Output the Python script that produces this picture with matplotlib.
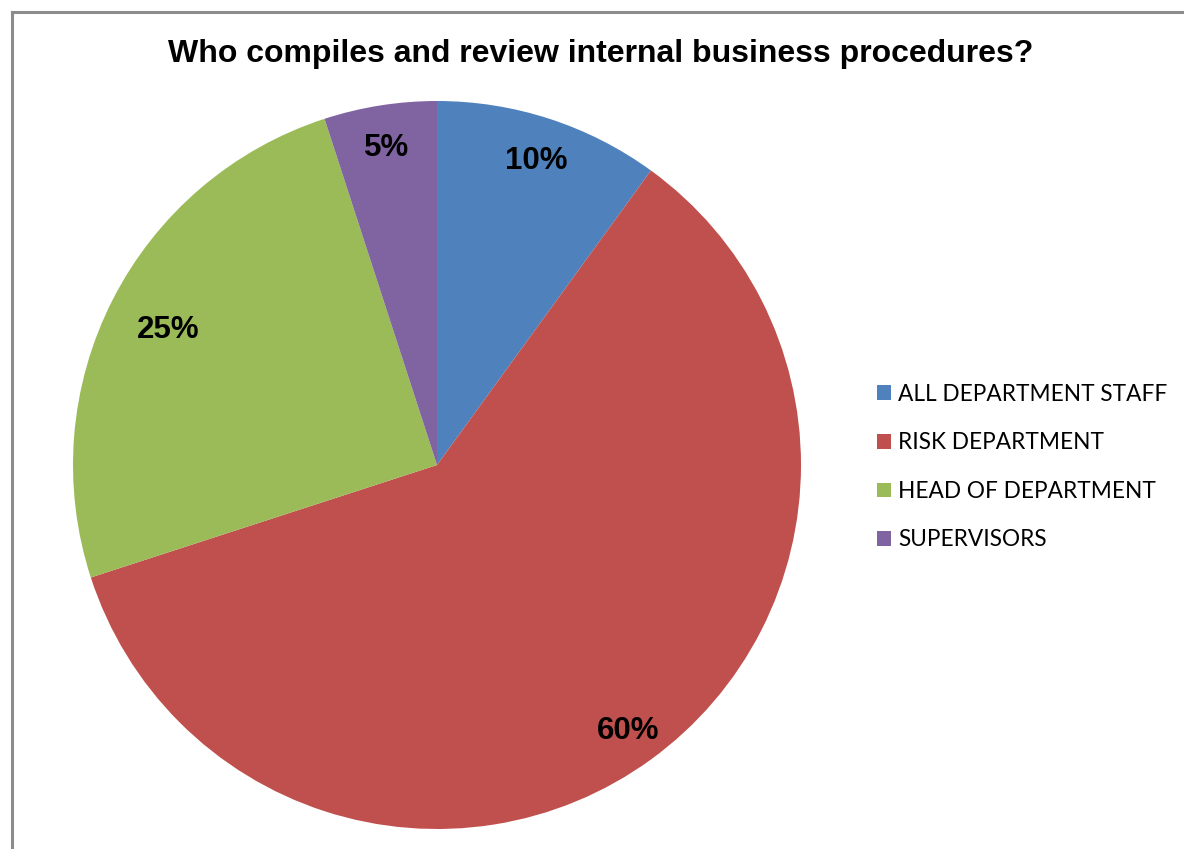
import matplotlib.pyplot as plt
import numpy as np
from matplotlib.patches import Patch
from matplotlib.lines import Line2D

# Survey answers
categories = ['ALL DEPARTMENT STAFF', 'RISK DEPARTMENT', 'HEAD OF DEPARTMENT', 'SUPERVISORS']
shares = [10, 60, 25, 5]
colors = ['#4F81BD', '#C0504D', '#9BBB59', '#8064A2']
title = 'Who compiles and review internal business procedures?'

W, H = 1184, 849
fig = plt.figure(figsize=(W / 100, H / 100), dpi=100)

# pie centred at (437, 465) px, radius 364 px
cx, cy, r = 437, 465, 364
ax = fig.add_axes([(cx - r) / W, (H - cy - r) / H, 2 * r / W, 2 * r / H])
wedges, _ = ax.pie(shares, colors=colors, startangle=90, counterclock=False,
                   radius=1, wedgeprops=dict(linewidth=0))
ax.set_xlim(-1, 1)
ax.set_ylim(-1, 1)
ax.set_aspect('equal')
ax.axis('off')

# percentage labels near the outer edge of each slice
label_dist = [0.885, 0.895, 0.83, 0.89]
for w, v, d in zip(wedges, shares, label_dist):
    ang = np.deg2rad((w.theta1 + w.theta2) / 2)
    ax.text(d * np.cos(ang), d * np.sin(ang) - 0.007, f'{v}%', ha='center', va='center',
            fontsize=22.5, fontweight='bold', family='Liberation Sans')

fig.text(601 / W, 1 - 54 / H, title, ha='center', va='center',
         fontsize=23, fontweight='bold', family='Liberation Sans')

handles = [Patch(facecolor=c, edgecolor='none') for c in colors]
fig.legend(handles, categories, loc='center left', bbox_to_anchor=(857 / W, 1 - 467 / H),
           frameon=False, prop=dict(family='Lato', size=16.3),
           handlelength=0.62, handleheight=0.62, handletextpad=0.3, labelspacing=1.22)

# chart frame: only left and top edges fall inside the image
frame = dict(color='#8c8c8c', linewidth=2.2, transform=fig.transFigure)
fig.add_artist(Line2D([11.5 / W, 11.5 / W], [0, 1 - 12 / H], **frame))
fig.add_artist(Line2D([11.5 / W, 1], [1 - 12 / H, 1 - 12 / H], **frame))

fig.savefig('out.png', dpi=100, facecolor='white')
